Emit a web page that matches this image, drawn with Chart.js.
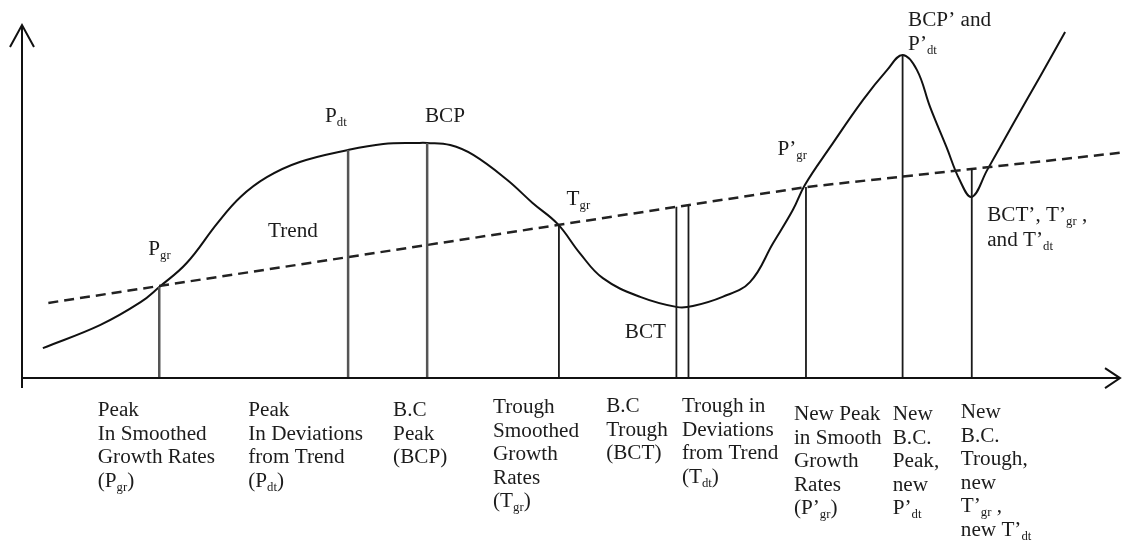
<!DOCTYPE html>
<html>
<head>
<meta charset="utf-8">
<script src="https://cdn.jsdelivr.net/npm/chart.js@4.4.1/dist/chart.umd.min.js"></script>
<style>
html,body{margin:0;padding:0;background:#fff;}
#wrap{width:1126px;height:544px;position:relative;}
</style>
</head>
<body>
<div id="wrap"><canvas id="c"></canvas></div>
<script>
// ---- data (time units on x, level units on y) ----
const curveX = [1.9,7.1,10.8,12.5,15.0,17.8,19.9,22.3,25.3,29.7,32.9,36.0,36.9,39.0,41.1,44.2,46.5,48.8,50.8,52.9,56.3,59.7,61.1,63.8,66.3,68.4,70.2,71.3,73.6,76.6,78.8,80.2,81.5,82.7,84.2,85.4,86.5,87.9,90.3,92.7,95.0];
const curveY = [8.5,15.0,21.5,25.8,32.6,43.9,51.3,56.9,61.2,64.6,66.3,66.6,66.6,66.0,63.2,56.1,49.6,43.6,35.4,28.3,23.0,20.1,20.4,23.0,27.2,38.2,47.6,54.7,65.4,78.8,87.3,91.5,87.3,76.8,65.4,56.1,51.3,58.9,72.2,85.3,98.0];

const trendX = [2.4, 71.4, 100];
const trendY = [21.3, 54.1, 63.8];

const markerX   = [12.5, 29.7, 36.9, 48.9, 59.6, 60.7, 71.4, 80.2, 86.5];
const markerTop = [25.8, 64.6, 66.6, 43.6, 48.5, 49.0, 54.1, 91.5, 59.5];
const markerGrey = [true, true, true, false, false, false, false, false, false];

const pointLabels = ['P_{gr}','P_{dt}','BCP','Trend','T_{gr}','BCT','P’_{gr}','BCP’ and','P’_{dt}','BCT’, T’_{gr} ,','and T’_{dt}'];
const pointLabelX = [11.5,27.6,36.7,22.4,49.6,54.9,68.8,80.7,80.7,87.9,87.9];
const pointLabelY = [34.8,72.5,72.5,39.9,49.0,11.3,63.2,99.7,92.9,44.5,37.4];

const phaseLabels = [
  ['Peak','In Smoothed','Growth Rates','(P_{gr})'],
  ['Peak','In Deviations','from Trend','(P_{dt})'],
  ['B.C','Peak','(BCP)'],
  ['Trough','Smoothed','Growth','Rates','(T_{gr})'],
  ['B.C','Trough','(BCT)'],
  ['Trough in','Deviations','from Trend','(T_{dt})'],
  ['New Peak','in Smooth','Growth','Rates','(P’_{gr})'],
  ['New','B.C.','Peak,','new','P’_{dt}'],
  ['New','B.C.','Trough,','new','T’_{gr} ,','new T’_{dt}']
];
const phaseLabelX = [6.9,20.6,33.8,42.9,53.2,60.1,70.3,79.3,85.5];
const phaseLabelY = [-10.8,-10.8,-10.8,-9.9,-9.6,-9.6,-11.9,-11.9,-11.3];

const axisX = [0, 100];
const axisYMin = -2.8, axisYMax = 100;

// ---- build datasets ----
const curveData = curveX.map((x,i)=>({x, y: curveY[i]}));
const trendData = trendX.map((x,i)=>({x, y: trendY[i]}));
function markerData(grey){
  const d = [];
  markerX.forEach((x,i)=>{
    if (markerGrey[i] !== grey) return;
    d.push({x, y:0}); d.push({x, y:markerTop[i]}); d.push({x, y:null});
  });
  return d;
}

const RICH_FONT = '"Liberation Serif", "Times New Roman", serif';
function drawRich(ctx, str, px, py){
  const parts = str.split(/(_\{[^}]*\})/).filter(s=>s.length);
  ctx.save();
  ctx.translate(px, py);
  ctx.scale(1.06, 1);
  let cx = 0;
  parts.forEach(p=>{
    if (p.startsWith('_{')) {
      const t = p.slice(2, -1);
      ctx.font = '12px ' + RICH_FONT;
      ctx.fillText(t, cx, 4);
      cx += ctx.measureText(t).width;
    } else {
      ctx.font = '20px ' + RICH_FONT;
      ctx.fillText(p, cx, 0);
      cx += ctx.measureText(p).width;
    }
  });
  ctx.restore();
}

const decor = {
  id: 'decor',
  afterDatasetsDraw(chart){
    const ctx = chart.ctx;
    const xs = chart.scales.x, ys = chart.scales.y;
    ctx.save();
    // arrowheads
    ctx.strokeStyle = '#111';
    ctx.lineWidth = 2;
    const tx = xs.getPixelForValue(0), ty = ys.getPixelForValue(axisYMax);
    ctx.beginPath();
    ctx.moveTo(tx - 12, ty + 22); ctx.lineTo(tx, ty); ctx.lineTo(tx + 12, ty + 22);
    ctx.stroke();
    const rx = xs.getPixelForValue(100), ry = ys.getPixelForValue(0);
    ctx.beginPath();
    ctx.moveTo(rx - 15, ry - 10); ctx.lineTo(rx, ry); ctx.lineTo(rx - 15, ry + 10);
    ctx.stroke();
    // labels
    ctx.fillStyle = '#1c1c1c';
    ctx.textBaseline = 'alphabetic';
    ctx.textAlign = 'left';
    pointLabels.forEach((s,i)=>{
      drawRich(ctx, s, xs.getPixelForValue(pointLabelX[i]), ys.getPixelForValue(pointLabelY[i]));
    });
    phaseLabels.forEach((lines,i)=>{
      const px = xs.getPixelForValue(phaseLabelX[i]);
      const py = ys.getPixelForValue(phaseLabelY[i]);
      lines.forEach((s,j)=> drawRich(ctx, s, px, py + j*23.5));
    });
    ctx.restore();
  }
};

new Chart(document.getElementById('c'), {
  type: 'line',
  data: {
    datasets: [
      { label:'x-axis', data: axisX.map(x=>({x, y:0})), borderColor:'#111', borderWidth:2, pointRadius:0 },
      { label:'y-axis', data: [{x:0,y:axisYMin},{x:0,y:axisYMax}], borderColor:'#111', borderWidth:2, pointRadius:0 },
      { label:'markers-grey', data: markerData(true), borderColor:'#555', borderWidth:2.5, pointRadius:0, spanGaps:false },
      { label:'markers', data: markerData(false), borderColor:'#1a1a1a', borderWidth:1.8, pointRadius:0, spanGaps:false },
      { label:'Trend', data: trendData, borderColor:'#222', borderWidth:2.5, borderDash:[10,6], pointRadius:0, tension:0 },
      { label:'Series', data: curveData, borderColor:'#111', borderWidth:2, pointRadius:0, tension:0.4 }
    ]
  },
  options: {
    responsive: true,
    maintainAspectRatio: false,
    animation: false,
    events: [],
    layout: { padding: { left: 22, right: 6, top: 25, bottom: 156 } },
    plugins: { legend: { display:false }, tooltip: { enabled:false } },
    elements: { line: { borderCapStyle:'butt', capBezierPoints:false } },
    datasets: { line: { clip: false } },
    scales: {
      x: { type:'linear', min:0, max:100, display:false },
      y: { type:'linear', min:axisYMin, max:axisYMax, display:false }
    }
  },
  plugins: [decor]
});
</script>
</body>
</html>
